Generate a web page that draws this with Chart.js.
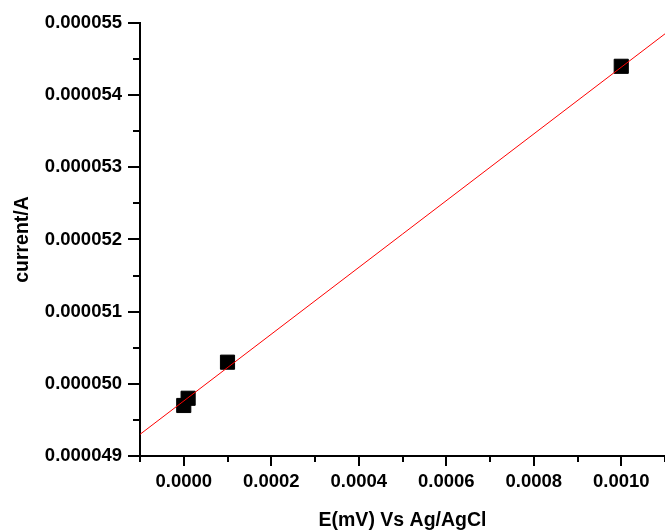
<!DOCTYPE html>
<html>
<head>
<meta charset="utf-8">
<script src="https://cdn.jsdelivr.net/npm/chart.js@4/dist/chart.umd.min.js"></script>
<style>
  body { margin: 0; background: #fff; }
  #chartArea { width: 665px; height: 532px; }
</style>
</head>
<body>
<div id="chartArea"><canvas id="chartCal" width="665" height="532"></canvas></div>
<script>
// measured points
const potential = [0, 0.00001, 0.0001, 0.001];
const current = [0.0000497, 0.0000498, 0.0000503, 0.0000544];
// fitted line, ends
const fitX = [-0.0001, 0.0011];
const fitY = [0.0000493, 0.00005485];

const xMin = -0.0001, xMax = 0.0011, xStep = 0.0001;
const yMin = 0.000049, yMax = 0.000055, yStep = 0.0000005;

const font = 'Liberation Sans, Arial, sans-serif';

function isMajor(value, step) {
  return Math.round(value / step) % 2 === 0;
}

// ticks drawn by hand so minor ones can be shorter
const tickMarks = {
  id: 'tickMarks',
  afterDraw(chart) {
    const ctx = chart.ctx;
    const xs = chart.scales.x;
    const ys = chart.scales.y;
    ctx.save();
    ctx.strokeStyle = '#000';
    ctx.lineWidth = 2;
    ctx.beginPath();
    xs.ticks.forEach((t) => {
      const px = Math.round(xs.getPixelForValue(t.value));
      const len = isMajor(t.value, xStep) ? 10 : 6;
      ctx.moveTo(px, xs.top);
      ctx.lineTo(px, xs.top + len);
    });
    ys.ticks.forEach((t) => {
      const py = Math.round(ys.getPixelForValue(t.value));
      const len = isMajor(t.value, yStep) ? 12 : 7;
      ctx.moveTo(ys.right, py);
      ctx.lineTo(ys.right - len, py);
    });
    ctx.stroke();
    ctx.restore();
  },
};

const ctx = document.getElementById('chartCal').getContext('2d');
const chartCal = new Chart(ctx, {
  type: 'scatter',
  data: {
    datasets: [
      {
        label: 'fit',
        type: 'line',
        order: 0,
        data: fitX.map((x, i) => ({ x: x, y: fitY[i] })),
        borderColor: '#ff0000',
        borderWidth: 1,
        pointRadius: 0,
        showLine: true,
        fill: false,
      },
      {
        label: 'current',
        order: 1,
        data: potential.map((x, i) => ({ x: x, y: current[i] })),
        pointStyle: 'rect',
        pointRadius: 10,
        backgroundColor: '#000',
        borderColor: '#000',
        borderWidth: 1,
      },
    ],
  },
  options: {
    responsive: false,
    animation: false,
    layout: { autoPadding: false, padding: { top: 23, right: -3, bottom: 0, left: 0 } },
    plugins: { legend: { display: false }, tooltip: { enabled: false } },
    scales: {
      x: {
        type: 'linear',
        min: xMin,
        max: xMax,
        afterFit: (scale) => {
          scale.height = 76;
          scale.paddingLeft = 0;
          scale.paddingRight = 0;
        },
        grid: { drawOnChartArea: false, tickLength: 10, tickColor: 'rgba(0,0,0,0)' },
        border: { color: '#000', width: 2 },
        ticks: {
          stepSize: xStep,
          padding: 5,
          color: '#000',
          autoSkip: false,
          maxRotation: 0,
          font: { family: font, size: 18.5, weight: 'bold' },
          callback: (v) => (isMajor(v, xStep) ? Math.abs(v).toFixed(4) : ''),
        },
        title: {
          display: true,
          text: 'E(mV) Vs Ag/AgCl',
          color: '#000',
          padding: { top: 0, bottom: 0 },
          font: { family: font, size: 19.5, weight: 'bold' },
        },
      },
      y: {
        type: 'linear',
        min: yMin,
        max: yMax,
        afterFit: (scale) => { scale.width = 140; },
        grid: { drawOnChartArea: false, tickLength: 12, tickColor: 'rgba(0,0,0,0)' },
        border: { color: '#000', width: 2 },
        ticks: {
          stepSize: yStep,
          padding: 6,
          color: '#000',
          autoSkip: false,
          font: { family: font, size: 18.5, weight: 'bold' },
          callback: (v) => (isMajor(v, yStep) ? v.toFixed(6) : ''),
        },
        title: {
          display: true,
          text: 'current/A',
          color: '#000',
          padding: { top: 11, bottom: 0 },
          font: { family: font, size: 19.5, weight: 'bold' },
        },
      },
    },
  },
  plugins: [tickMarks],
});
</script>
</body>
</html>
